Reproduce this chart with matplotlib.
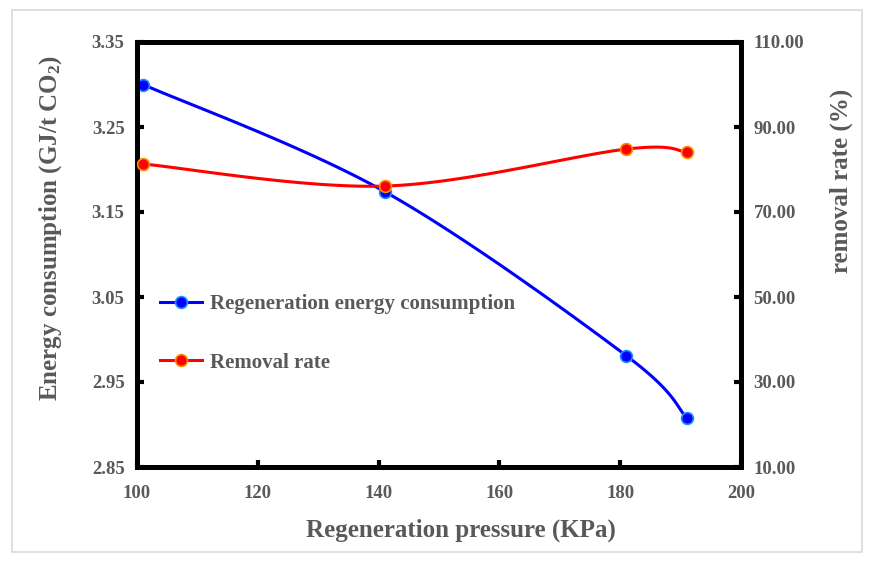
import numpy as np
import matplotlib
matplotlib.use("Agg")
import matplotlib.pyplot as plt
from matplotlib.patches import Rectangle

pressure = [101, 141, 181, 191]
energy = [3.30, 3.174, 2.981, 2.908]
removal = [81.3, 76.1, 84.8, 84.1]
x_ticks = [100, 120, 140, 160, 180, 200]
y1_ticks = [2.85, 2.95, 3.05, 3.15, 3.25, 3.35]
y2_ticks = [10, 30, 50, 70, 90, 110]

TXT = "#595959"
plt.rcParams["font.family"] = ["Liberation Serif", "DejaVu Serif"]
plt.rcParams["font.weight"] = "bold"
plt.rcParams["mathtext.fontset"] = "custom"
plt.rcParams["mathtext.rm"] = "Liberation Serif:bold"
plt.rcParams["mathtext.it"] = "Liberation Serif:bold"
plt.rcParams["mathtext.bf"] = "Liberation Serif:bold"

W, H = 872, 561
fig = plt.figure(figsize=(W/100, H/100), dpi=100)
fig.add_artist(Rectangle((12/W, 1-552/H), 850/W, 542/H, transform=fig.transFigure,
                         fill=False, edgecolor="#d9d9d9", linewidth=1.2))
AX_L, AX_R, AX_T, AX_B = 137, 741, 42, 467
ax = fig.add_axes([AX_L/W, 1-AX_B/H, (AX_R-AX_L)/W, (AX_B-AX_T)/H])
ax2 = ax.twinx()

ax.set_xlim(100, 200)
ax.set_ylim(2.85, 3.35)
ax2.set_ylim(10, 110)
aspect = (AX_B-AX_T)/(AX_R-AX_L)


def smooth(xs, ys, xlim, ylim, n=40):
    px = (np.array(xs, float) - xlim[0]) / (xlim[1] - xlim[0])
    py = (np.array(ys, float) - ylim[0]) / (ylim[1] - ylim[0]) * aspect
    P = np.column_stack([px, py])
    out = []
    m = len(P)
    t = np.linspace(0, 1, n)
    for i in range(m - 1):
        p0 = P[i - 1] if i > 0 else P[i]
        p1 = P[i]
        p2 = P[i + 1]
        p3 = P[i + 2] if i + 2 < m else P[i + 1]
        c1 = p1 + (p2 - p0) / 6
        c2 = p2 - (p3 - p1) / 6
        seg = (((1-t)**3)[:, None]*p1 + (3*(1-t)**2*t)[:, None]*c1
               + (3*(1-t)*t**2)[:, None]*c2 + (t**3)[:, None]*p2)
        out.append(seg if i == 0 else seg[1:])
    S = np.vstack(out)
    sx = S[:, 0] * (xlim[1] - xlim[0]) + xlim[0]
    sy = S[:, 1] / aspect * (ylim[1] - ylim[0]) + ylim[0]
    return sx, sy

bx, by = smooth(pressure, energy, (100, 200), (2.85, 3.35))
rx, ry = smooth(pressure, removal, (100, 200), (10, 110))
ax.plot(bx, by, color="#0000ff", lw=2.2, zorder=3)
ax2.plot(rx, ry, color="#ff0000", lw=2.2, zorder=3)
ax.plot(pressure, energy, "o", color="#0000ff", mec="#1e90ff", mew=1.2, ms=8.5, zorder=4)
ax2.plot(pressure, removal, "o", color="#ff0000", mec="#ff8c00", mew=1.2, ms=8.5, zorder=4)

h1, = ax.plot([], [], "-o", color="#0000ff", mec="#1e90ff", mew=1.2, ms=8.5, lw=2.2)
h2, = ax.plot([], [], "-o", color="#ff0000", mec="#ff8c00", mew=1.2, ms=8.5, lw=2.2)
leg = ax.legend([h1, h2], ["Regeneration energy consumption", "Removal rate"],
                loc="upper left", bbox_to_anchor=((160-AX_L)/(AX_R-AX_L), (AX_B-294)/(AX_B-AX_T)),
                frameon=False, borderpad=0, borderaxespad=0,
                prop={"family": "Liberation Serif", "weight": "bold", "size": 15},
                labelspacing=1.85, handlelength=2.0, handletextpad=0.4)
for t in leg.get_texts():
    t.set_color(TXT)

ax.set_xticks(x_ticks)
ax.set_yticks(y1_ticks)
ax.set_yticklabels([f"{v:.2f}" for v in y1_ticks])
ax2.set_yticks(y2_ticks)
ax2.set_yticklabels([f"{v:.2f}" for v in y2_ticks])

for a in (ax, ax2):
    for s in a.spines.values():
        s.set_linewidth(3.6)
        s.set_color("black")
    a.tick_params(direction="in", length=5, width=3, colors="black", labelcolor=TXT, labelsize=13.5)
    for lab in a.get_xticklabels() + a.get_yticklabels():
        lab.set_fontweight("bold")
ax.tick_params(axis="x", pad=13)
ax.tick_params(axis="y", pad=9)
ax2.tick_params(axis="y", pad=9)

ax.set_xlabel("Regeneration pressure (KPa)", fontsize=18, fontweight="bold", color=TXT)
ax.set_ylabel("Energy consumption (GJ/t CO$_2$)", fontsize=18, fontweight="bold", color=TXT)
ax2.set_ylabel("removal rate (%)", fontsize=18, fontweight="bold", color=TXT)

def px2ax(xp, yp):
    return (xp-AX_L)/(AX_R-AX_L), (AX_B-yp)/(AX_B-AX_T)

ax.xaxis.label.set_va("center")
ax.xaxis.set_label_coords(*px2ax(461, 530))
ax.yaxis.label.set_va("center")
ax.yaxis.set_label_coords(*px2ax(51, 228))
ax2.yaxis.label.set_va("center")
ax2.yaxis.set_label_coords(*px2ax(841, 181))

fig.savefig("out.png", dpi=100)
